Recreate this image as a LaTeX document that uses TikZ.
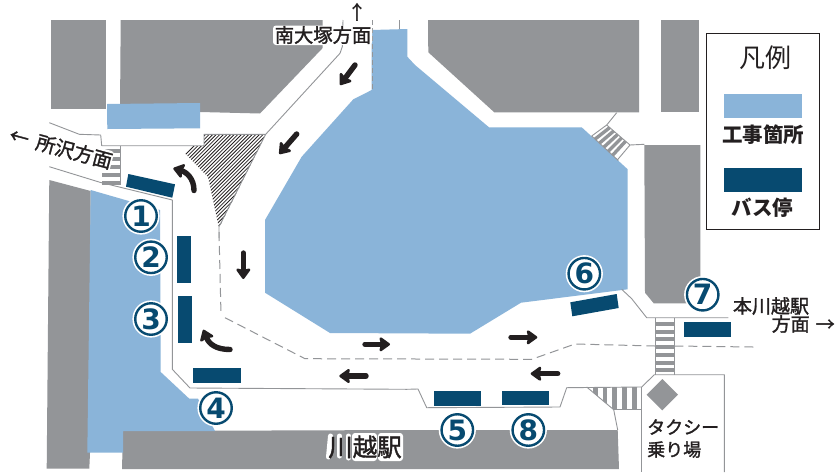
\documentclass[tikz,border=0pt]{standalone}
\usepackage{fontspec}
\usetikzlibrary{arrows.meta,calc}
\newfontfamily\jp{Noto Sans CJK JP}
\newfontfamily\jpm[FakeBold=1.5]{Noto Sans CJK JP}
\newfontfamily\numf{DejaVu Sans}
\definecolor{blockgray}{HTML}{939598}
\definecolor{workblue}{HTML}{8AB4D9}
\definecolor{stopblue}{HTML}{074A70}
\definecolor{inkc}{HTML}{231F20}
\tikzset{
  block/.style={fill=blockgray,draw=none},
  work/.style={fill=workblue,draw=none},
  busstop/.style={fill=stopblue,draw=none},
  roadline/.style={draw=blockgray,line width=0.9pt,line join=round},
  laneline/.style={draw=blockgray,line width=1pt,dash pattern=on 9pt off 5pt},
  stripe/.style={fill=blockgray,draw=none},
  flow/.style={draw=inkc,line width=5.4pt,line cap=round,-{Stealth[length=12pt,width=17pt,inset=2pt,round]}},
  numring/.style={circle,fill=white,draw=stopblue,line width=2.4pt,minimum size=31.5pt,inner sep=0pt,
     font=\numf\bfseries\fontsize{28}{28}\selectfont,text=stopblue},
  label/.style={inner sep=0pt,text=inkc},
  halo/.style={fill=white,draw=none,rounded corners=3pt},
}
\begin{document}
\begin{tikzpicture}[x=1pt,y=-1pt]
\useasboundingbox (0,0) rectangle (835,472);
\fill[white] (0,0) rectangle (835,472);
% buildings
\path[block] (50.7,20) -- (106,20) -- (106,108.7) -- (50.7,108.7) -- cycle;
\path[block] (120.7,20) -- (322.7,20) -- (322.7,48) -- (260,113.5) -- (200,112) -- (120,112) -- cycle;
\path[block] (49.3,180) -- (90.7,191) -- (90,453) -- (89.3,468.5) -- (46.7,468.5) -- cycle;
\path[block] (428,20) -- (639,20) -- (639,112.3) -- (494.3,112.3) -- (428.3,52.3) -- cycle;
\path[block] (661,20) -- (699,20) -- (699,112) -- (661,112) -- cycle;
\path[block] (644.3,145) -- (700.3,145) -- (700.3,303.3) -- (653.7,303.3) -- (645,292.7) -- cycle;
\path[block] (123,431) -- (415,430) -- (617.7,430) -- (619,469) -- (122,469) -- cycle;
% works
\path[work] (107,104) -- (200,103) -- (200,128.3) -- (107.3,129) -- cycle;
\path[work] (90.7,190) -- (160,210) -- (160.7,372) -- (189.3,398.7) -- (198,398.7) -- (215,431) -- (123,431) -- (123,452.7) -- (87.3,452.7) -- cycle;
\path[work] (371.7,30) -- (407.3,29) -- (407.3,56.7) -- (415,65) -- (489,127.3) -- (581.7,127.3) -- (627.7,169.3) -- (627.7,289.3) -- (521,302.7) -- (470,333.7) -- (330,333) -- (265,292.7) -- (265,220) -- (301.7,156.7) -- (353.3,99.3) -- (371.7,90) -- cycle;
% hatched island
\begin{scope}
  \clip (204,134.3) -- (265.7,134.3) -- (219,228) -- (208,177) -- (178,146) -- (204,146) -- cycle;
  \foreach \k in {0,...,60} { \draw[inkc,line width=0.8pt] (100+3.6*\k,240) -- ++(120,-120); }
\end{scope}
% crosswalks
\foreach \yy in {149,157,165,173,181} { \path[stripe] (102,\yy) rectangle (120,\yy+3.8); }
\foreach \yy in {322,329.7,337.4,345.1,352.8,360.5,368.2} { \path[stripe] (656,\yy) rectangle (674,\yy+4); }
\begin{scope}
  \clip (586.7,387) -- (613.7,409.7) -- (641.7,409.7) -- (641.7,387) -- cycle;
  \foreach \xx in {593,602.5,612,622,632} { \path[stripe] (\xx,387) rectangle (\xx+4.6,410); }
\end{scope}
\coordinate (twa) at (591.7,136);
\coordinate (twb) at (617.3,160);
\coordinate (twc) at (630,145);
\coordinate (twd) at (606.7,125);
\foreach \tt in {0.13,0.3,0.47,0.64,0.81} {
  \draw[blockgray,line width=3.4pt] ($(twa)!\tt!(twb)$) -- ($(twd)!\tt!(twc)$);
}
% road edges
\draw[roadline] (343,20) -- (342.3,46.7) -- (340,53.3) -- (265.7,134.3) -- (204,134.3) -- (204,145.7) -- (101.7,145.7) -- (100.7,135) -- (79.3,134.3) -- (49.3,122.7);
\draw[roadline] (265.7,134.3) -- (219,226.7) -- (219,238);
\draw[roadline] (49.3,166.7) -- (100,182.3) -- (172.3,200) -- (172.3,369.3) -- (190,388) -- (406.7,389.3) -- (418,389) -- (426.7,407.7) -- (560,407) -- (566.7,387.7) -- (641.7,387) -- (654.3,374.7) -- (724.3,374.7) -- (724.3,472);
\draw[roadline] (641.7,387) -- (641.7,472);
\draw[roadline] (586.7,387) -- (613.7,409.7) -- (617.7,430);
\draw[roadline] (613.7,409.7) -- (641.7,409.7);
\draw[roadline] (120.7,145.7) -- (120.7,185);
\draw[roadline] (621.7,289.3) -- (631.7,298.7) -- (646.7,317.7) -- (728.3,317.7);
\draw[roadline] (655.7,317.7) -- (655.7,374.7);
\draw[roadline] (674.3,317.7) -- (674.3,374.7);
\draw[roadline] (616.7,112.7) -- (606.7,125) -- (591.7,136);
\draw[roadline] (606.7,125) -- (630,145) -- (617.3,160);
\draw[roadline] (630,145) -- (644.3,144.3);
\draw[roadline] (591.7,136) -- (618.3,160.5);
\draw[blockgray,line width=0.7pt,dash pattern=on 5pt off 3pt] (372,20) -- (372,90);
\draw[roadline] (399,20) -- (399,29);
% lane dividers
\draw[laneline] (219,232) -- (221,314.7);
\draw[laneline] (225,317.7) -- (305,358.7) -- (531.7,359.3) -- (575,344) -- (655,346);
\draw[laneline] (674.3,346) -- (753.3,347);
% taxi diamond
\path[block] (662.3,379) -- (678,394.7) -- (662.3,410.4) -- (646.6,394.7) -- cycle;
% bus stops
\path[busstop] (128.3,174) -- (175,184.3) -- (172.3,197.7) -- (126,186.7) -- cycle;
\path[busstop] (176.7,236) rectangle (191,283.3);
\path[busstop] (177.7,296.3) rectangle (192.3,343.3);
\path[busstop] (193.3,368) rectangle (240.7,382.7);
\path[busstop] (434,391.3) rectangle (481.3,405.7);
\path[busstop] (502.3,390.7) rectangle (549.3,405);
\path[busstop] (570.3,302.3) -- (616.7,294) -- (618.7,308) -- (572.3,316.3) -- cycle;
\path[busstop] (684,322.3) rectangle (731.3,336.7);
% traffic arrows
\draw[flow] (355,65) -- (340,85);
\draw[flow] (296.7,134) -- (279.3,154);
\draw[flow] (194,190.5) .. controls (194,178) and (186,172) .. (173.3,168.3);
\draw[flow] (243.3,253) -- (243.3,279);
\draw[flow] (230,349.5) .. controls (216,349.5) and (209,344) .. (203.3,329.7);
\draw[flow] (365,344.3) -- (390,344.3);
\draw[flow] (366,376) -- (339.3,376);
\draw[flow] (511,337.3) -- (537.3,337.3);
\draw[flow] (557.7,373.7) -- (530.7,373.7);
% numbered stops
\foreach \cx/\cy/\nn in {141/216/1,151/257.3/2,151/319/3,216/408/4,457.3/430/5,584.3/273.7/6,702.7/294.7/7,528.3/430/8} {
  \fill[white] (\cx,\cy) circle (18.6);
  \node[numring] (stop\nn) at (\cx,\cy) {\nn};
}
% legend
\draw[inkc,line width=1pt,fill=white] (706.7,33.3) rectangle (819.3,229);
\path[work] (724,94) rectangle (802,117.7);
\path[busstop] (724,168.3) rectangle (802,192.3);
\node[label,font=\jp\fontsize{26}{26}\selectfont] (legendtitle) at (765,57.5) {凡例};
\node[label,font=\jp\bfseries\fontsize{20.5}{20.5}\selectfont] (legendwork) at (763,135) {工事箇所};
\node[label,font=\jp\bfseries\fontsize{20.5}{20.5}\selectfont] (legendstop) at (762.5,207.5) {バス停};
% white grounds behind labels that cross the map
\path[halo] (273,25.5) rectangle (372,45);
\path[halo,rotate around={-15:(73,152)}] (33,141) rectangle (113,163);
\draw[white,line width=5pt,line cap=round] (330.5,436) -- (328.5,457);
\draw[white,line width=5pt,line cap=round] (339.5,436) -- (339.5,456);
\draw[white,line width=5pt,line cap=round] (348.5,436) -- (348.5,458);
\path[halo] (352,433) rectangle (377,461);
\path[halo] (378,433) rectangle (403,461);
% place labels
\node[label,font=\jpm\fontsize{19}{19}\selectfont] (nup) at (357,12) {↑};
\node[label,font=\jpm\fontsize{19.3}{19.3}\selectfont] (nanotsuka) at (323,35) {南大塚方面};
\node[label,font=\jpm\fontsize{19.5}{19.5}\selectfont,rotate=-15] (tokorozawa) at (61,148) {←\hspace{8pt}所沢方面};
\node[label,font=\jpm\fontsize{24.5}{24.5}\selectfont] (kawagoe) at (365,447) {川越駅};
\node[label,font=\jpm\fontsize{19}{19}\selectfont] (honkawagoe) at (771,306) {本川越駅};
\node[label,font=\jpm\fontsize{19}{19}\selectfont,anchor=west] (hmen) at (771.5,324) {方面\hspace{6pt}→};
\node[label,font=\jpm\fontsize{18}{18}\selectfont,anchor=west] (taxi) at (647,427) {タクシー};
\node[label,font=\jpm\fontsize{18}{18}\selectfont,anchor=west] (noriba) at (647,449.5) {乗り場};
\end{tikzpicture}
\end{document}
